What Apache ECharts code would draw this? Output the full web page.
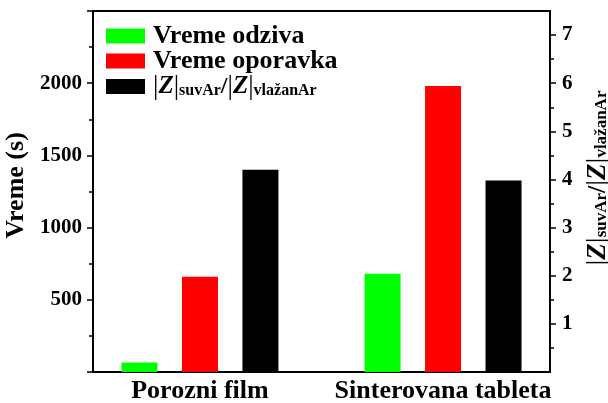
<!DOCTYPE html>
<html>
<head>
<meta charset="utf-8">
<script src="https://cdn.jsdelivr.net/npm/echarts@6/dist/echarts.min.js"></script>
<style>
  html, body { margin: 0; padding: 0; background: #fff; }
  #chart { width: 608px; height: 403px; }
</style>
</head>
<body>
<div id="chart"></div>
<script>
// Sample types, placed at x = 1 and x = 2 on the base axis
const categories = ['Porozni film', 'Sinterovana tableta'];
// Response and recovery times (s), left axis
const responseTime = [65, 680];
const recoveryTime = [660, 1980];
// Impedance ratio |Z|dry Ar / |Z|humid Ar, right axis
const impedanceRatio = [4.2, 3.98];
// Tick labels
const leftTicks = [500, 1000, 1500, 2000];
const rightTicks = [1, 2, 3, 4, 5, 6, 7];
const rightMinorTicks = [0.5, 1.5, 2.5, 3.5, 4.5, 5.5, 6.5];

const seriesNames = ['Vreme odziva', 'Vreme oporavka', '|Z|suvAr/|Z|vlažanAr'];
const FONT = "'Liberation Serif', 'Times New Roman', serif";

// rich-text styles for |Z|suvAr/|Z|vlažanAr at a given size
function ratioRich(zSize, subSize) {
  return {
    bar: { fontFamily: FONT, fontSize: zSize + 2, fontWeight: 'normal', color: '#000', lineHeight: 24, verticalAlign: 'middle' },
    z: { fontFamily: FONT, fontSize: zSize, fontWeight: 'bold', fontStyle: 'italic', color: '#000', lineHeight: 24, verticalAlign: 'middle' },
    sub: { fontFamily: FONT, fontSize: subSize, fontWeight: 'bold', color: '#000', lineHeight: 13, verticalAlign: 'bottom' },
    sl: { fontFamily: FONT, fontSize: zSize - 1, fontWeight: 'bold', color: '#000', lineHeight: 24, verticalAlign: 'middle' }
  };
}
const ratioLabel = (a, b) =>
  '{bar||}{z|Z}{bar||}{sub|' + a + '}{sl|/}{bar||}{z|Z}{bar||}{sub|' + b + '}';

const pairs = arr => arr.map((v, i) => [i + 1, v]);

const chart = echarts.init(document.getElementById('chart'), null, { renderer: 'canvas' });

chart.setOption({
  backgroundColor: '#fff',
  animation: false,
  grid: {
    left: 93, right: 58, top: 11, bottom: 31,
    outerBoundsMode: 'none',
    containLabel: false,
    show: true, borderColor: '#000', borderWidth: 2, backgroundColor: 'transparent'
  },
  legend: {
    orient: 'vertical',
    left: 106, top: 23,
    padding: 0,
    itemWidth: 39, itemHeight: 15, itemGap: -1,
    icon: 'rect',
    selectedMode: false,
    data: seriesNames,
    textStyle: {
      fontFamily: FONT, fontSize: 26, fontWeight: 'bold', color: '#000',
      padding: [0, 0, 0, 3], rich: ratioRich(25, 16)
    },
    formatter: name => name === seriesNames[2] ? ratioLabel('suvAr', 'vlažanAr') : name
  },
  xAxis: {
    type: 'value',
    min: 0.56, max: 2.44,
    splitLine: { show: false },
    axisLine: { show: true, lineStyle: { color: '#000', width: 2 } },
    axisTick: { show: false },
    axisLabel: {
      customValues: [1, 2],
      formatter: v => categories[Math.round(v) - 1] || '',
      fontFamily: FONT, fontSize: 26, fontWeight: 'bold', color: '#000', margin: 6
    }
  },
  yAxis: [
    {
      type: 'value', position: 'left',
      min: 0, max: 2500, interval: 500,
      name: 'Vreme (s)', nameLocation: 'middle', nameGap: 54, nameRotate: 90,
      nameTextStyle: { fontFamily: FONT, fontSize: 26, fontWeight: 'bold', color: '#000', padding: [0, 0, 0, 12] },
      splitLine: { show: false },
      axisLine: { show: true, lineStyle: { color: '#000', width: 2 } },
      axisTick: { show: true, inside: false, length: 6, lineStyle: { color: '#000', width: 1.5 } },
      minorTick: { show: true, splitNumber: 2, length: 4, lineStyle: { color: '#000', width: 1.5 } },
      axisLabel: {
        formatter: v => leftTicks.includes(v) ? String(v) : '',
        fontFamily: FONT, fontSize: 21, fontWeight: 'bold', color: '#000', margin: 11
      }
    },
    {
      type: 'value', position: 'right',
      min: 0, max: 7.5, interval: 1,
      name: ratioLabel('suvAr', 'vlažanAr'), nameLocation: 'middle', nameGap: 28, nameRotate: 90,
      nameTextStyle: { rich: ratioRich(27, 17), padding: [0, 0, 0, 27] },
      splitLine: { show: false },
      axisLine: { show: true, lineStyle: { color: '#000', width: 2 } },
      axisTick: { show: true, customValues: rightTicks, length: 6, lineStyle: { color: '#000', width: 1.5 } },
      axisLabel: {
        customValues: rightTicks,
        formatter: v => String(v),
        fontFamily: FONT, fontSize: 21, fontWeight: 'bold', color: '#000', margin: 12
      }
    },
    {
      // minor ticks on the right-hand axis
      type: 'value', position: 'right',
      min: 0, max: 7.5, interval: 1,
      splitLine: { show: false },
      axisLine: { show: false },
      axisLabel: { show: false },
      axisTick: { show: true, customValues: rightMinorTicks, length: 4, lineStyle: { color: '#000', width: 1.5 } }
    }
  ],
  series: [
    {
      name: seriesNames[0], type: 'bar', yAxisIndex: 0,
      barWidth: 36, barGap: '68%',
      itemStyle: { color: '#00ff00' },
      data: pairs(responseTime)
    },
    {
      name: seriesNames[1], type: 'bar', yAxisIndex: 0,
      barWidth: 36, barGap: '68%',
      itemStyle: { color: '#ff0000' },
      data: pairs(recoveryTime)
    },
    {
      name: seriesNames[2], type: 'bar', yAxisIndex: 1,
      barWidth: 36, barGap: '68%',
      itemStyle: { color: '#000000' },
      data: pairs(impedanceRatio)
    }
  ]
});
</script>
</body>
</html>
